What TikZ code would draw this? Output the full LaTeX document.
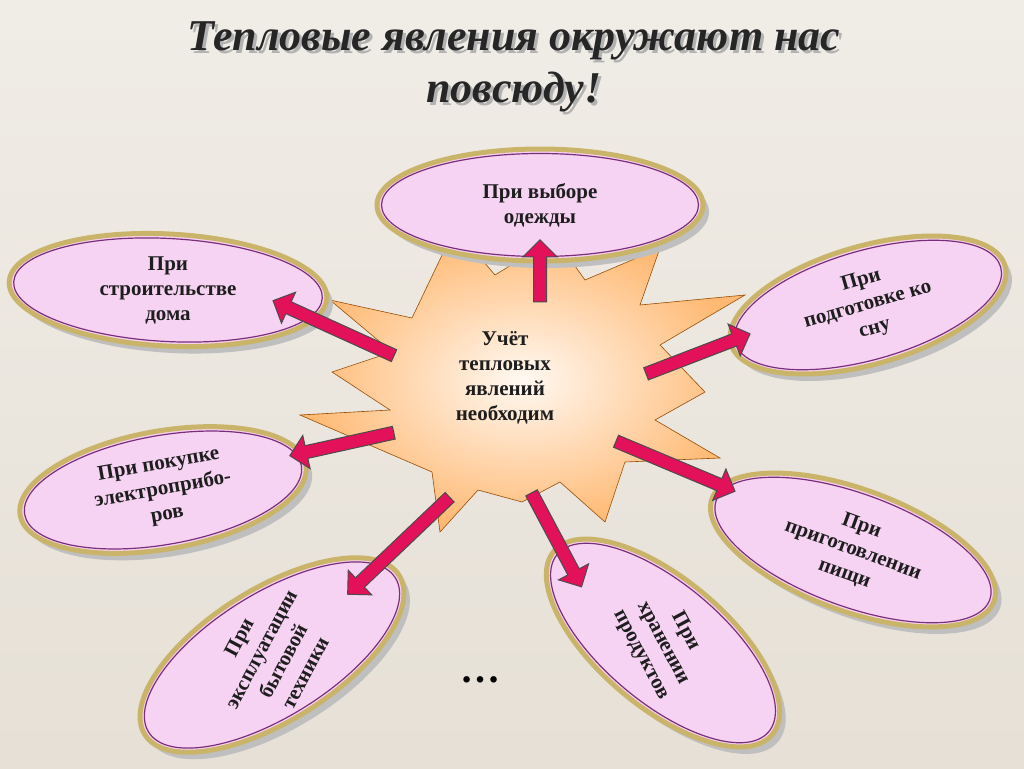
\documentclass[tikz,border=0pt]{standalone}
\usepackage{fontspec}
\setmainfont{Liberation Serif}
\usetikzlibrary{shapes.geometric,shapes.arrows,calc}
\definecolor{bgc}{HTML}{E6E0D6}
\definecolor{pinkfill}{HTML}{F7D3F3}
\definecolor{ringc}{HTML}{C9B46A}
\definecolor{rimc}{HTML}{7A2E7A}
\definecolor{arr}{HTML}{E3105A}
\definecolor{txt}{HTML}{1E1E1E}
\tikzset{
  oval/.style={ellipse, fill=pinkfill, draw=ringc, line width=5pt, inner sep=0pt},
  ovalrim/.style={ellipse, draw=rimc, line width=1.2pt, inner sep=0pt},
  ovaltext/.style={align=center, font=\bfseries\fontsize{21}{25}\selectfont, text=txt},
  blockarrow/.style={single arrow, draw=black!70, line width=1pt, fill=arr, minimum width=34pt, single arrow head extend=8pt, inner sep=3pt, shape border uses incircle},
}
\newcommand{\myoval}[7]{%
  \node[ellipse, fill=black!25, minimum width=#3pt, minimum height=#4pt, rotate=#5] at (#1+6,#2+7) {};
  \node[oval, minimum width=#3pt, minimum height=#4pt, rotate=#5] (#7) at (#1,#2) {};
  \node[ovalrim, minimum width=#3pt-9pt, minimum height=#4pt-9pt, rotate=#5] at (#1,#2) {};
  \node[ovaltext, rotate=#6] at (#1,#2) {\csname txt#7\endcsname};}
\newcommand{\txta}{При выборе\\одежды}
\newcommand{\txtb}{При\\строительстве\\дома}
\newcommand{\txtc}{При\\подготовке ко\\сну}
\newcommand{\txtd}{При покупке\\электроприбо-\\ров}
\newcommand{\txte}{При\\приготовлении\\пищи}
\newcommand{\txtf}{При\\эксплуатации\\бытовой\\техники}
\newcommand{\txtg}{При\\хранении\\продуктов}
\newcommand{\blockarr}[5]{%
  \path (#1,#2) coordinate (t#5) (#3,#4) coordinate (h#5);
  \path let \p1=($(h#5)-(t#5)$), \n1={veclen(\x1,\y1)}, \n2={atan2(\y1,\x1)} in
    node[blockarrow, minimum height=\n1, rotate=\n2] at ($(t#5)!0.5!(h#5)$) {};}
\begin{document}
\begin{tikzpicture}[x=1pt,y=-1pt]
\useasboundingbox (0,0) rectangle (1024,768);
\shade[top color=bgc!60!white, bottom color=bgc] (0,0) rectangle (1024,768);
% title
\node[font=\bfseries\itshape\fontsize{44}{52}\selectfont, text=black!30, align=center] at (517,70) {Тепловые явления окружают нас\\повсюду!};
\node[font=\bfseries\itshape\fontsize{44}{52}\selectfont, text=black!85, align=center] (title) at (514,67) {Тепловые явления окружают нас\\повсюду!};
% star
\shade[inner color=white!95!orange, outer color=orange!55!white, draw=orange!60!black, line width=0.6pt]
 (455,228)--(495,275)--(555,238)--(585,280)--(660,248)--(640,305)--(745,295)--(660,345)--(705,392)--(655,420)--(720,458)--(625,462)--(605,522)--(560,482)--(522,502)--(478,490)--(440,532)--(432,472)--(300,415)--(390,410)--(332,372)--(392,352)--(330,300)--(412,318)--cycle;
\node[ovaltext] (center) at (505,378) {Учёт\\тепловых\\явлений\\необходим};
% ovals
\myoval{540}{205}{326}{112}{0}{0}{a}
\myoval{168}{290}{318}{112}{-3}{0}{b}
\myoval{868}{305}{285}{118}{16}{16}{c}
\myoval{163}{490}{290}{118}{10}{10}{d}
\myoval{853}{550}{300}{122}{-20}{-20}{e}
\myoval{272}{655}{300}{132}{32}{62}{f}
\myoval{663}{643}{285}{128}{-40}{-62}{g}
% arrows
\blockarr{540}{305}{540}{243}{1}
\blockarr{397}{357}{276}{302}{2}
\blockarr{643}{375}{747}{335}{3}
\blockarr{397}{432}{293}{455}{4}
\blockarr{613}{440}{732}{490}{5}
\blockarr{452}{495}{350}{592}{6}
\blockarr{530}{490}{580}{584}{7}
\node[font=\bfseries\fontsize{40}{40}\selectfont] (dots) at (480,680) {\dots};
\end{tikzpicture}
\end{document}
